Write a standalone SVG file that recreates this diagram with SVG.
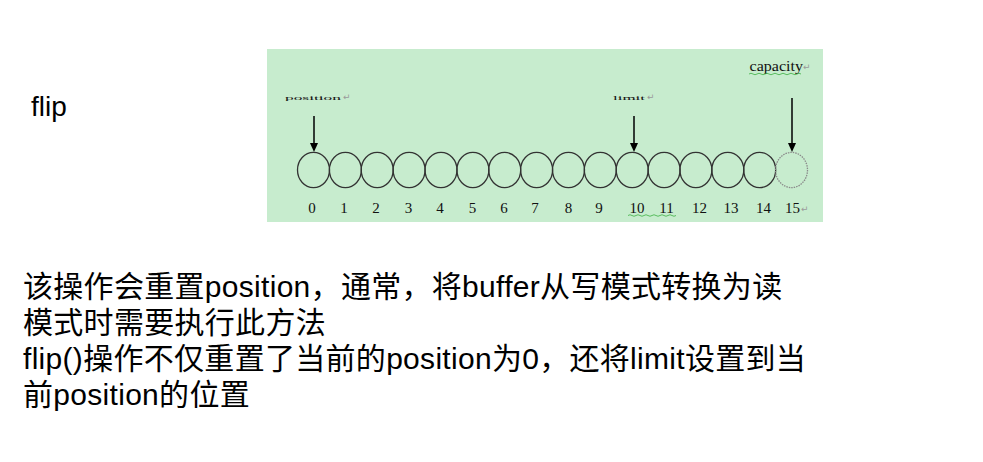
<svg xmlns="http://www.w3.org/2000/svg" width="983" height="462" viewBox="0 0 983 462">
<defs>
<style>
.num{font-family:"Liberation Serif",serif;font-size:15px;fill:#111;text-anchor:middle}
.cell{fill:none;stroke:#333;stroke-width:1.3}
.ret{font-family:"DejaVu Sans",sans-serif;font-size:9px;fill:#9a9a9a}
.body{font-family:"Liberation Sans","Noto Sans CJK SC",sans-serif;font-size:30px;fill:#000;letter-spacing:0.3px}
.ptr{stroke:#000;stroke-width:1.5}
.wave{fill:none;stroke:#3cb043;stroke-width:0.8}
</style>
</defs>
<rect width="983" height="462" fill="#fff"/>
<g id="title"><text x="31" y="116" font-family="Liberation Sans,sans-serif" font-size="28" fill="#000">flip</text></g>
<g id="panel">
<rect x="267" y="49" width="556" height="173" fill="#c7ecce"/>
</g>
<g id="cells">
<ellipse class="cell" cx="313.5" cy="170" rx="16" ry="17.6"/>
<ellipse class="cell" cx="345.4" cy="170" rx="16" ry="17.6"/>
<ellipse class="cell" cx="377.2" cy="170" rx="16" ry="17.6"/>
<ellipse class="cell" cx="409.1" cy="170" rx="16" ry="17.6"/>
<ellipse class="cell" cx="441" cy="170" rx="16" ry="17.6"/>
<ellipse class="cell" cx="472.9" cy="170" rx="16" ry="17.6"/>
<ellipse class="cell" cx="504.7" cy="170" rx="16" ry="17.6"/>
<ellipse class="cell" cx="536.6" cy="170" rx="16" ry="17.6"/>
<ellipse class="cell" cx="568.5" cy="170" rx="16" ry="17.6"/>
<ellipse class="cell" cx="600.3" cy="170" rx="16" ry="17.6"/>
<ellipse class="cell" cx="632.2" cy="170" rx="16" ry="17.6"/>
<ellipse class="cell" cx="664.1" cy="170" rx="16" ry="17.6"/>
<ellipse class="cell" cx="695.9" cy="170" rx="16" ry="17.6"/>
<ellipse class="cell" cx="727.8" cy="170" rx="16" ry="17.6"/>
<ellipse class="cell" cx="759.7" cy="170" rx="16" ry="17.6"/>
<ellipse cx="791.5" cy="170" rx="16" ry="17.6" fill="none" stroke="#8a8a8a" stroke-width="1.3" stroke-dasharray="1.5 1"/>
</g>
<g id="indices">
<text class="num" x="312" y="213">0</text>
<text class="num" x="344" y="213">1</text>
<text class="num" x="376" y="213">2</text>
<text class="num" x="408.5" y="213">3</text>
<text class="num" x="440" y="213">4</text>
<text class="num" x="472.5" y="213">5</text>
<text class="num" x="504" y="213">6</text>
<text class="num" x="535" y="213">7</text>
<text class="num" x="568.5" y="213">8</text>
<text class="num" x="599" y="213">9</text>
<text class="num" x="637" y="213">10</text>
<text class="num" x="666.5" y="213">11</text>
<text class="num" x="699.5" y="213">12</text>
<text class="num" x="731" y="213">13</text>
<text class="num" x="763.5" y="213">14</text>
<text class="num" x="792.5" y="213">15</text>
<text class="ret" x="801" y="212">↵</text>
<path class="wave" d="M628,215.5 q2,-1.5 4,0 t4,0 t4,0 t4,0 t4,0 t4,0 t4,0 t4,0 t4,0 t4,0 t4,0 t4,0"/>
</g>
<g id="labels">
<text x="285" y="100" font-family="Liberation Serif,serif" font-size="7" fill="#111" textLength="56" lengthAdjust="spacingAndGlyphs">position</text>
<text class="ret" x="343" y="100" font-size="5">↵</text>
<text x="613" y="100" font-family="Liberation Serif,serif" font-size="7" fill="#111" textLength="32" lengthAdjust="spacingAndGlyphs">limit</text>
<text class="ret" x="647" y="100" font-size="5">↵</text>
<text x="749.5" y="71" font-family="Liberation Serif,serif" font-size="15" fill="#111" textLength="53.5" lengthAdjust="spacingAndGlyphs">capacity</text>
<text class="ret" x="803" y="70">↵</text>
<path class="wave" d="M749,74 q2,-1.5 4,0 t4,0 t4,0 t4,0 t4,0 t4,0 t4,0 t4,0 t4,0 t4,0 t4,0 t4,0 t4,0"/>
</g>
<g id="connectors">
<line class="ptr" x1="314" y1="116" x2="314" y2="144"/>
<polygon points="310,143 318,143 314,152" fill="#000"/>
<line class="ptr" x1="634" y1="116" x2="634" y2="144"/>
<polygon points="630,143 638,143 634,152" fill="#000"/>
<line class="ptr" x1="792" y1="98" x2="792" y2="144"/>
<polygon points="788,143 796,143 792,152" fill="#000"/>
</g>
<g id="description">
<text class="body" x="23" y="297">该操作会重置position，通常，将buffer从写模式转换为读</text>
<text class="body" x="23" y="333">模式时需要执行此方法</text>
<text class="body" x="23" y="369">flip()操作不仅重置了当前的position为0，还将limit设置到当</text>
<text class="body" x="23" y="405">前position的位置</text>
</g>
</svg>
